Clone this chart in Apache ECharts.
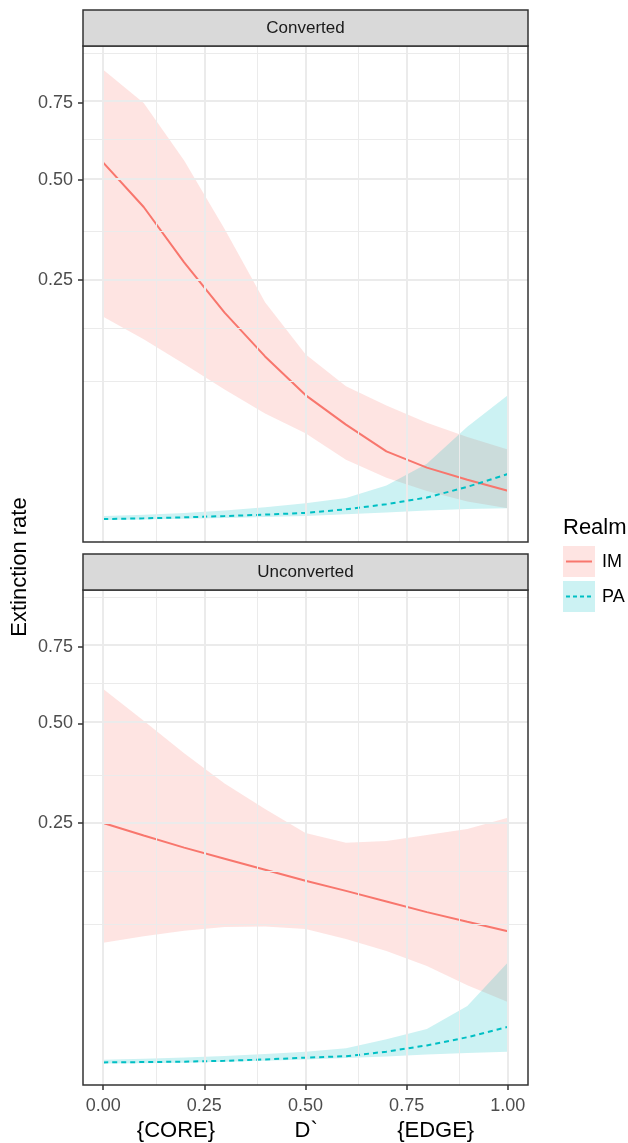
<!DOCTYPE html>
<html>
<head>
<meta charset="utf-8">
<script src="https://cdn.jsdelivr.net/npm/echarts@6/dist/echarts.min.js"></script>
<style>
html,body{margin:0;padding:0;background:#fff;}
#chart{width:628px;height:1143px;}
</style>
</head>
<body>
<div id="chart"></div>
<script>
// ---- data (extinction rate, original units) ----
const xs = [0, 0.1, 0.2, 0.3, 0.4, 0.5, 0.6, 0.7, 0.8, 0.9, 1.0];
const panels = ['Converted', 'Unconverted'];
const realms = ['IM', 'PA'];

// Converted
const imConvFit = [0.551, 0.423, 0.287, 0.186, 0.116, 0.0678, 0.0396, 0.0206, 0.0121, 0.00717, 0.00384];
const imConvLo  = [0.1786, 0.1414, 0.1056, 0.0740, 0.0493, 0.0328, 0.0159, 0.00792, 0.00375, 0.00156, 0.00065];
const imConvHi  = [0.874, 0.750, 0.558, 0.366, 0.205, 0.119, 0.0778, 0.0570, 0.0412, 0.0300, 0.0218];
const paConvFit = [0.0000109, 0.000023, 0.0000462, 0.0000903, 0.000156, 0.000256, 0.000552, 0.001156, 0.0023, 0.0049, 0.00933];
const paConvLo  = [0.00000225, 0.00000625, 0.0000144, 0.0000303, 0.0000563, 0.0000903, 0.000169, 0.000289, 0.000441, 0.000576, 0.00065];
const paConvHi  = [0.00009, 0.000144, 0.000256, 0.000441, 0.000784, 0.0013, 0.00221, 0.00533, 0.0139, 0.038, 0.0676];

// Unconverted
const imUncFit = [0.25, 0.2247, 0.2016, 0.1815, 0.1624, 0.1444, 0.1289, 0.1136, 0.0992, 0.0870, 0.0758];
const imUncLo  = [0.0632, 0.0702, 0.0762, 0.0807, 0.0812, 0.0784, 0.0671, 0.0548, 0.0412, 0.0266, 0.0164];
const imUncHi  = [0.606, 0.508, 0.416, 0.339, 0.280, 0.230, 0.211, 0.214, 0.226, 0.238, 0.261];
const paUncFit = [0.0000073, 0.0000109, 0.0000176, 0.000036, 0.0000774, 0.000156, 0.00024, 0.000625, 0.00144, 0.003025, 0.00585];
const paUncLo  = [0.00000025, 0.000001, 0.000004, 0.000016, 0.000036, 0.0000723, 0.000144, 0.000225, 0.000361, 0.000484, 0.00061];
const paUncHi  = [0.000064, 0.0001, 0.000169, 0.000256, 0.0004, 0.000625, 0.00102, 0.0026, 0.00518, 0.0144, 0.0441];

// ticks
const yTicks = [0.25, 0.50, 0.75];
const xTicks = [0, 0.25, 0.50, 0.75, 1.00];
const xMinor = [0.125, 0.375, 0.625, 0.875];
const yLabel = 'Extinction rate';
const xLabel = '{CORE}' + ' '.repeat(13) + 'D`' + ' '.repeat(13) + '{EDGE}';
const legendTitle = 'Realm';

// ---- styling ----
const FONT = "'Liberation Sans', Arial, sans-serif";
const RED = '#F8766D', CYAN = '#00BFC4';
const RED_FILL = 'rgba(248,118,109,0.2)', CYAN_FILL = 'rgba(0,191,196,0.2)';
const GRID_C = '#EBEBEB';

const tr = v => Math.sqrt(v);  // sqrt axis transform
const yMin = -0.0443, yMax = 0.9843;

// major breaks in transformed space, minor breaks as in ggplot (midpoints incl. extensions)
const yMajT = yTicks.map(tr);
const bd = yMajT[1] - yMajT[0];
const ext = [yMajT[0] - bd, ...yMajT, yMajT[yMajT.length - 1] + bd];
const yMinT = [];
for (let i = 0; i < ext.length - 1; i++) yMinT.push((ext[i] + ext[i + 1]) / 2);
yMinT.push(ext[0]);

const gridDefs = [
  {left: 83, top: 46, width: 445, height: 496},
  {left: 83, top: 590, width: 445, height: 496}
];

const grids = gridDefs.map(g => Object.assign({}, g, {
  show: true, backgroundColor: 'transparent', borderColor: '#333333', borderWidth: 1.5, z: 10, containLabel: false
}));

const xAxes = gridDefs.map((g, i) => ({
  type: 'value', gridIndex: i, min: -0.05, max: 1.05, position: 'bottom',
  axisLine: {show: false, onZero: false}, splitLine: {show: false},
  axisTick: {show: i === 1, customValues: xTicks, length: 5, lineStyle: {color: '#333333', width: 1.5}},
  axisLabel: {show: i === 1, customValues: xTicks, formatter: v => v.toFixed(2), color: '#4D4D4D', fontSize: 18, fontFamily: FONT, margin: 12},
  name: i === 1 ? xLabel : '', nameLocation: 'middle', nameGap: 35,
  nameTextStyle: {fontSize: 22, color: '#000', fontFamily: FONT}
}));

const yAxes = gridDefs.map((g, i) => ({
  type: 'value', gridIndex: i, min: yMin, max: yMax, position: 'left',
  axisLine: {show: false, onZero: false}, splitLine: {show: false},
  axisTick: {show: true, customValues: yMajT, length: 5, lineStyle: {color: '#333333', width: 1.5}},
  axisLabel: {show: true, customValues: yMajT, formatter: v => (v * v).toFixed(2), color: '#4D4D4D', fontSize: 18, fontFamily: FONT, margin: 10}
}));

function ribbon(i, lo, hi, fill, name) {
  const data = xs.map((x, k) => [x, tr(lo[k]), tr(hi[k])]);
  return {
    type: 'custom', name: name, xAxisIndex: i, yAxisIndex: i, z: 2, silent: true,
    data: data,
    encode: {x: 0, y: [1, 2]},
    renderItem: function (params, api) {
      if (params.dataIndex !== 0) return null;
      const pts = [];
      for (let k = 0; k < data.length; k++) pts.push(api.coord([data[k][0], data[k][2]]));
      for (let k = data.length - 1; k >= 0; k--) pts.push(api.coord([data[k][0], data[k][1]]));
      return {type: 'polygon', shape: {points: pts}, style: {fill: fill, stroke: null}};
    }
  };
}

function line(i, fit, color, dashed, name) {
  return {
    type: 'line', name: name, xAxisIndex: i, yAxisIndex: i, z: 3, silent: true,
    data: xs.map((x, k) => [x, tr(fit[k])]),
    showSymbol: false, symbol: 'none', smooth: false,
    lineStyle: {color: color, width: 2, type: dashed ? [5, 4] : 'solid'}
  };
}

function gridLines(i) {
  const d = [];
  yMinT.forEach(v => d.push({yAxis: v, lineStyle: {color: GRID_C, width: 1, type: 'solid'}}));
  xMinor.forEach(v => d.push({xAxis: v, lineStyle: {color: GRID_C, width: 1, type: 'solid'}}));
  yMajT.forEach(v => d.push({yAxis: v, lineStyle: {color: GRID_C, width: 2, type: 'solid'}}));
  xTicks.forEach(v => d.push({xAxis: v, lineStyle: {color: GRID_C, width: 2, type: 'solid'}}));
  return {
    type: 'line', xAxisIndex: i, yAxisIndex: i, z: 1, data: [], silent: true,
    markLine: {silent: true, symbol: ['none', 'none'], label: {show: false}, animation: false, data: d}
  };
}

const series = [
  gridLines(0), gridLines(1),
  ribbon(0, imConvLo, imConvHi, RED_FILL, 'IM'),
  ribbon(0, paConvLo, paConvHi, CYAN_FILL, 'PA'),
  ribbon(1, imUncLo, imUncHi, RED_FILL, 'IM'),
  ribbon(1, paUncLo, paUncHi, CYAN_FILL, 'PA'),
  line(0, imConvFit, RED, false, 'IM'),
  line(0, paConvFit, CYAN, true, 'PA'),
  line(1, imUncFit, RED, false, 'IM'),
  line(1, paUncFit, CYAN, true, 'PA')
];

const graphic = [];
// facet strips
gridDefs.forEach((g, i) => {
  graphic.push({type: 'rect', z: 20, shape: {x: g.left, y: g.top - 36, width: g.width, height: 36},
    style: {fill: '#D9D9D9', stroke: '#333333', lineWidth: 1.5}});
  graphic.push({type: 'text', z: 21, x: g.left + g.width / 2, y: g.top - 18,
    style: {text: panels[i], fontSize: 17, fontFamily: FONT, fill: '#1A1A1A', align: 'center', verticalAlign: 'middle'}});
});
// y title
graphic.push({type: 'text', z: 21, x: 20, y: 567, rotation: Math.PI / 2,
  style: {text: yLabel, fontSize: 22, fontFamily: FONT, fill: '#000', align: 'center', verticalAlign: 'middle'}});
// legend
graphic.push({type: 'text', z: 21, x: 563, y: 528,
  style: {text: legendTitle, fontSize: 22, fontFamily: FONT, fill: '#000', align: 'left', verticalAlign: 'middle'}});
const keyFill = [RED_FILL, CYAN_FILL], keyCol = [RED, CYAN];
realms.forEach((r, k) => {
  const ky = 546 + k * 35;
  graphic.push({type: 'rect', z: 20, shape: {x: 563, y: ky, width: 32, height: 31}, style: {fill: keyFill[k]}});
  graphic.push({type: 'line', z: 21, shape: {x1: 566, y1: ky + 15.5, x2: 592, y2: ky + 15.5},
    style: {stroke: keyCol[k], lineWidth: 2, lineDash: k === 1 ? [4, 3] : null}});
  graphic.push({type: 'text', z: 21, x: 602, y: ky + 16,
    style: {text: r, fontSize: 18, fontFamily: FONT, fill: '#000', align: 'left', verticalAlign: 'middle'}});
});

const chart = echarts.init(document.getElementById('chart'), null, {renderer: 'canvas'});
chart.setOption({
  backgroundColor: '#ffffff',
  animation: false,
  textStyle: {fontFamily: FONT},
  grid: grids, xAxis: xAxes, yAxis: yAxes,
  series: series,
  graphic: graphic
});
</script>
</body>
</html>
